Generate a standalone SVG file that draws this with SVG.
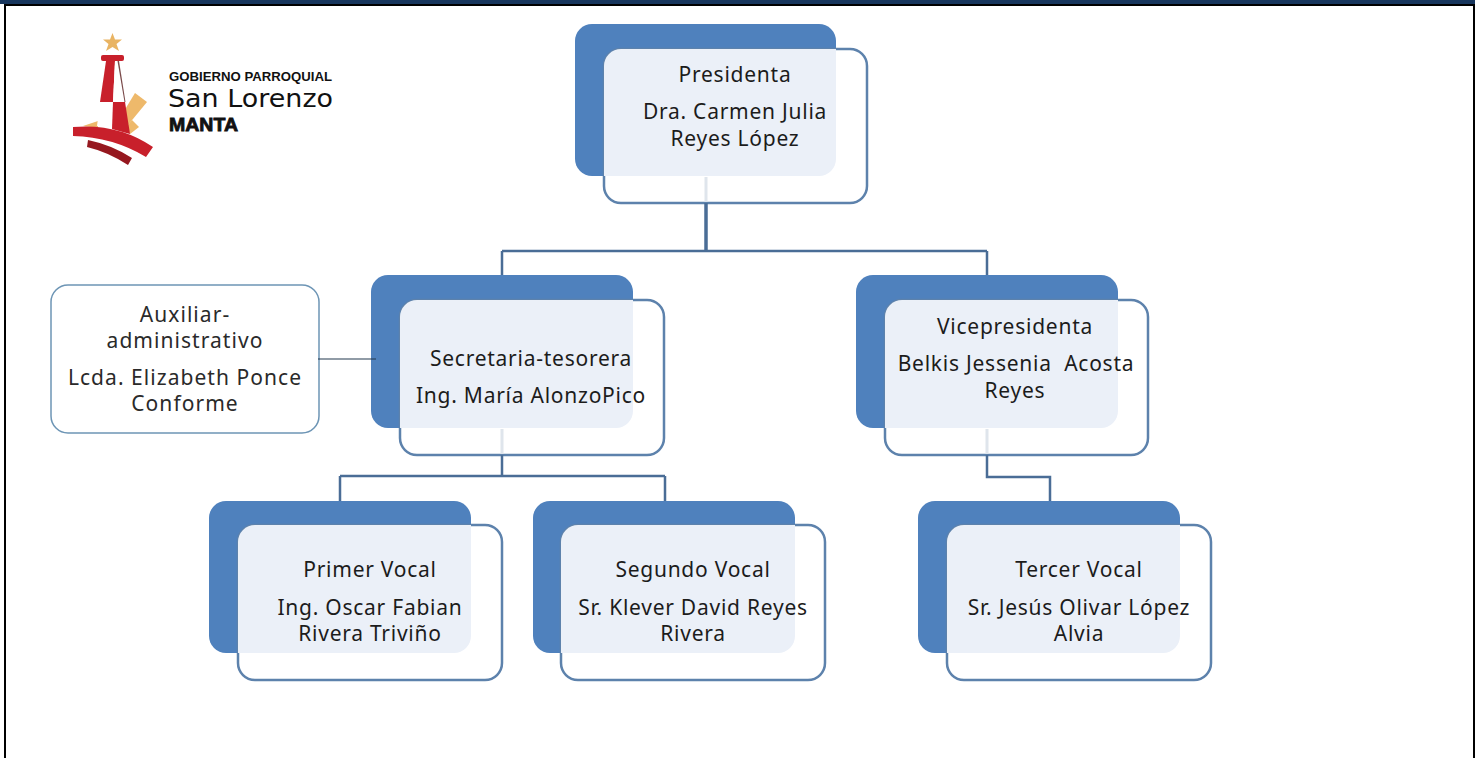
<svg xmlns="http://www.w3.org/2000/svg" width="1482" height="758" viewBox="0 0 1482 758">
<style>
.back{fill:#4f81bd;stroke:none}
.front{fill:#fff;stroke:#5d82ac;stroke-width:2.5}
.over{fill:#ebf0f8;stroke:none}
.wire{fill:none;stroke:#4a6d96;stroke-width:2.5}
.faint{fill:none;stroke:#dfe5ec;stroke-width:3}
text{font-family:"Noto Sans","Open Sans","DejaVu Sans",sans-serif;font-size:21px;letter-spacing:.75px;fill:#1c1c1c;text-anchor:middle}
#auxiliar text{letter-spacing:1.050px;fill:#2a2a2a}
.logo{font-family:"Liberation Sans",Arial,sans-serif;text-anchor:start;fill:#111;letter-spacing:0}
</style>
<rect width="1482" height="758" fill="#fff"/>
<rect x="0" y="0" width="1475" height="4" fill="#17365d"/>
<rect x="4" y="4" width="1471" height="2" fill="#000"/>
<rect x="4" y="4" width="2" height="754" fill="#000"/>
<rect x="1473" y="4" width="2" height="754" fill="#000"/>

<g id="logo">
<polygon points="112.500,33 115,39.500 122,39.500 116.500,44 119,51 112.500,47 106,51 108.500,44 103,39.500 110,39.500" fill="#e9b463"/>
<polygon points="135,93 147,102 128,125 121,116" fill="#eeb96b"/>
<polygon points="83,126 98,121 98,128" fill="#eeb96b"/>
<polygon points="132,120 139,127 130,134 127,126" fill="#eeb96b"/>
<rect x="101" y="55" width="23" height="6" rx="2" fill="#c8202b"/>
<polygon points="106,61 115,61 113,102 100,102" fill="#c8202b"/>
<polygon points="115,61 118,61 125,102 113,102" fill="#fff"/>
<polygon points="117.500,61 119,61 125.500,102 124.500,102" fill="#7a4a4a"/>
<polygon points="100,102 113,102 112,128 97,126" fill="#fff"/>
<polygon points="113,102 125,102 130,134 112,129" fill="#c8202b"/>
<path d="M73 127 Q118 123 153 147 L146 157 Q113 137 73 136Z" fill="#c8202b"/>
<path d="M88 140 Q112 145 132 158 L128 165 Q108 152 87 147Z" fill="#96181f"/>
<text class="logo" x="169" y="81" style="font-size:12.500px;font-weight:700" textLength="163" lengthAdjust="spacingAndGlyphs">GOBIERNO PARROQUIAL</text>
<text class="logo" x="168" y="106.500" style="font-family:'DejaVu Sans',sans-serif;font-size:25px" textLength="165" lengthAdjust="spacingAndGlyphs">San Lorenzo</text>
<text class="logo" x="169" y="131" style="font-size:18px;font-weight:700" textLength="69" lengthAdjust="spacingAndGlyphs" stroke="#111" stroke-width=".8">MANTA</text>
</g>

<g id="presidenta">
<rect class="back" x="575" y="24" width="261" height="152" rx="17"/>
<rect class="front" x="604" y="49" width="263" height="154" rx="17"/>
<path class="over" d="M621 49H836V159a17 17 0 0 1-17 17H604V66a17 17 0 0 1 17-17Z"/>
<text x="735" y="82">Presidenta</text>
<text x="735" y="119">Dra. Carmen Julia</text>
<text x="735" y="146">Reyes López</text>
</g>

<g id="auxiliar">
<rect x="51" y="285" width="268" height="148" rx="17" fill="#fff" stroke="#6d95b5" stroke-width="1.500"/>
<text x="185" y="322">Auxiliar-</text>
<text x="185" y="348">administrativo</text>
<text x="185" y="385">Lcda. Elizabeth Ponce</text>
<text x="185" y="411">Conforme</text>
</g>

<g id="secretaria">
<rect class="back" x="371" y="275" width="262" height="153" rx="17"/>
<rect class="front" x="400" y="300" width="264" height="155" rx="17"/>
<path class="over" d="M417 300H633V411a17 17 0 0 1-17 17H400V317a17 17 0 0 1 17-17Z"/>
<text x="531" y="366">Secretaria-tesorera</text>
<text x="531" y="403">Ing. María AlonzoPico</text>
</g>

<g id="vicepresidenta">
<rect class="back" x="856" y="275" width="262" height="153" rx="17"/>
<rect class="front" x="885" y="300" width="263" height="155" rx="17"/>
<path class="over" d="M902 300H1118V411a17 17 0 0 1-17 17H885V317a17 17 0 0 1 17-17Z"/>
<text x="1015" y="334">Vicepresidenta</text>
<text x="1016" y="371" style="white-space:pre">Belkis Jessenia  Acosta</text>
<text x="1015" y="398">Reyes</text>
</g>

<g id="primer-vocal">
<rect class="back" x="209" y="501" width="262" height="152" rx="17"/>
<rect class="front" x="238" y="525" width="264" height="155" rx="17"/>
<path class="over" d="M255 525H471V636a17 17 0 0 1-17 17H238V542a17 17 0 0 1 17-17Z"/>
<text x="370" y="577">Primer Vocal</text>
<text x="370" y="615">Ing. Oscar Fabian</text>
<text x="370" y="641">Rivera Triviño</text>
</g>

<g id="segundo-vocal">
<rect class="back" x="533" y="501" width="262" height="152" rx="17"/>
<rect class="front" x="561" y="525" width="264" height="155" rx="17"/>
<path class="over" d="M578 525H795V636a17 17 0 0 1-17 17H561V542a17 17 0 0 1 17-17Z"/>
<text x="693" y="577">Segundo Vocal</text>
<text x="693" y="615">Sr. Klever David Reyes</text>
<text x="693" y="641">Rivera</text>
</g>

<g id="tercer-vocal">
<rect class="back" x="918" y="501" width="262" height="152" rx="17"/>
<rect class="front" x="947" y="525" width="264" height="155" rx="17"/>
<path class="over" d="M964 525H1180V636a17 17 0 0 1-17 17H947V542a17 17 0 0 1 17-17Z"/>
<text x="1079" y="577">Tercer Vocal</text>
<text x="1079" y="615">Sr. Jesús Olivar López</text>
<text x="1079" y="641">Alvia</text>
</g>

<g id="connectors">
<path class="faint" d="M706 177V202M502 429V454M987 429V454"/>
<path class="wire" d="M706 203V251" style="stroke-width:3.500"/>
<path class="wire" d="M502 251H987M502 251V275M987 251V275"/>
<path class="wire" d="M502 455V476M340 476H665M340 476V501M665 476V501"/>
<path class="wire" d="M987 455V477H1050V501"/>
<path d="M318 359H376" fill="none" stroke="#22384f" stroke-width="1.200"/>
</g>
</svg>
